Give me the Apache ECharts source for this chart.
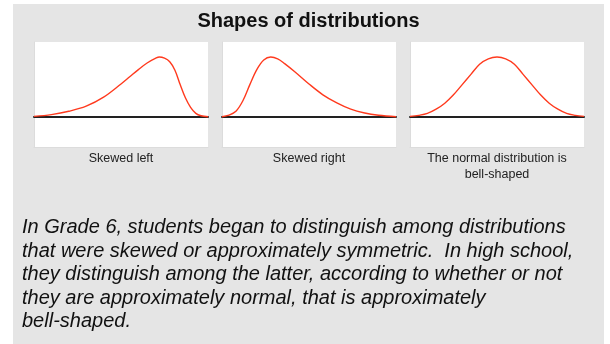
<!DOCTYPE html>
<html>
<head>
<meta charset="utf-8">
<script src="https://cdn.jsdelivr.net/npm/echarts@6/dist/echarts.min.js"></script>
<style>
  html, body { margin: 0; padding: 0; background: #fff; }
  #chart { width: 610px; height: 344px; }
</style>
</head>
<body>
<div id="chart"></div>
<script>
// curve shapes: x = position across panel (0..1), y = height (peak = 1)
const leftX  = [0, 0.1, 0.2, 0.3, 0.4, 0.5, 0.55, 0.6, 0.65, 0.7, 0.72, 0.75, 0.78, 0.81, 0.84, 0.87, 0.9, 0.93, 0.96, 1];
const leftY  = [0.01, 0.04, 0.095, 0.18, 0.33, 0.55, 0.67, 0.79, 0.9, 0.98, 1, 0.98, 0.92, 0.78, 0.54, 0.32, 0.16, 0.06, 0.02, 0.005];

const rightX = [0, 0.04, 0.08, 0.12, 0.16, 0.2, 0.24, 0.28, 0.32, 0.36, 0.42, 0.5, 0.58, 0.66, 0.74, 0.82, 0.9, 1];
const rightY = [0.005, 0.03, 0.095, 0.27, 0.54, 0.79, 0.95, 1, 0.97, 0.89, 0.75, 0.55, 0.37, 0.235, 0.13, 0.067, 0.03, 0.005];

const normX  = [0, 0.05, 0.1, 0.15, 0.2, 0.25, 0.3, 0.35, 0.4, 0.45, 0.5, 0.55, 0.6, 0.65, 0.7, 0.75, 0.8, 0.85, 0.9, 0.95, 1];
const normY  = [0.01, 0.028, 0.06, 0.13, 0.23, 0.37, 0.54, 0.71, 0.88, 0.97, 1, 0.97, 0.88, 0.71, 0.54, 0.37, 0.23, 0.13, 0.06, 0.028, 0.01];

const captions = ['Skewed left', 'Skewed right', 'The normal distribution is\nbell-shaped'];
const title = 'Shapes of distributions';
const paragraph = 'In Grade 6, students began to distinguish among distributions\n' +
    'that were skewed or approximately symmetric.  In high school,\n' +
    'they distinguish among the latter, according to whether or not\n' +
    'they are approximately normal, that is approximately\n' +
    'bell-shaped.';

const curves = [[leftX, leftY], [rightX, rightY], [normX, normY]];
const panelLeft = [34, 222, 410];
const panelW = 174;

const FONT = '"Liberation Sans", Arial, Helvetica, sans-serif';

const grids = [], xAxes = [], yAxes = [], series = [], texts = [];
curves.forEach(function (c, i) {
    grids.push({
        left: panelLeft[i], top: 42, width: panelW, height: 105,
        show: true, backgroundColor: '#fff', borderWidth: 0
    });
    // baseline at y = 0
    xAxes.push({
        type: 'value', gridIndex: i, min: 0, max: 1,
        axisLine: { show: true, onZero: true, lineStyle: { color: '#222', width: 2 } },
        axisTick: { show: false }, axisLabel: { show: false }, splitLine: { show: false }
    });
    // faint bottom edge of panel
    xAxes.push({
        type: 'value', gridIndex: i, min: 0, max: 1, position: 'bottom',
        axisLine: { show: true, onZero: false, lineStyle: { color: '#dcdcdc', width: 1 } },
        axisTick: { show: false }, axisLabel: { show: false }, splitLine: { show: false }
    });
    yAxes.push({
        type: 'value', gridIndex: i, min: -0.5, max: 1.25,
        axisLine: { show: true, lineStyle: { color: '#dcdcdc', width: 1 } },
        axisTick: { show: false }, axisLabel: { show: false }, splitLine: { show: false }
    });
    series.push({
        type: 'line',
        xAxisIndex: i * 2, yAxisIndex: i,
        data: c[0].map(function (x, k) { return [x, c[1][k]]; }),
        smooth: 0.35,
        showSymbol: false,
        lineStyle: { color: '#ff3a1e', width: 1.4 },
        z: 3
    });
    texts.push({
        type: 'text',
        x: panelLeft[i] + panelW / 2, y: 151,
        style: {
            text: captions[i], fill: '#222', font: '12.5px ' + FONT,
            textAlign: 'center', textVerticalAlign: 'top', lineHeight: 16
        }
    });
});

const chart = echarts.init(document.getElementById('chart'), null, { renderer: 'canvas' });
chart.setOption({
    animation: false,
    backgroundColor: '#fff',
    grid: grids,
    xAxis: xAxes,
    yAxis: yAxes,
    series: series,
    graphic: [
        { type: 'rect', z: -100, shape: { x: 13, y: 4, width: 591, height: 340 }, style: { fill: '#e5e5e5' } },
        {
            type: 'text', x: 308.5, y: 21,
            style: {
                text: title, fill: '#111', font: 'bold 20px ' + FONT,
                textAlign: 'center', textVerticalAlign: 'middle'
            }
        },
        {
            type: 'text', x: 22, y: 216,
            style: {
                text: paragraph, fill: '#111', font: 'italic 20px ' + FONT,
                textAlign: 'left', textVerticalAlign: 'top', lineHeight: 23.5
            }
        }
    ].concat(texts)
});
</script>
</body>
</html>
